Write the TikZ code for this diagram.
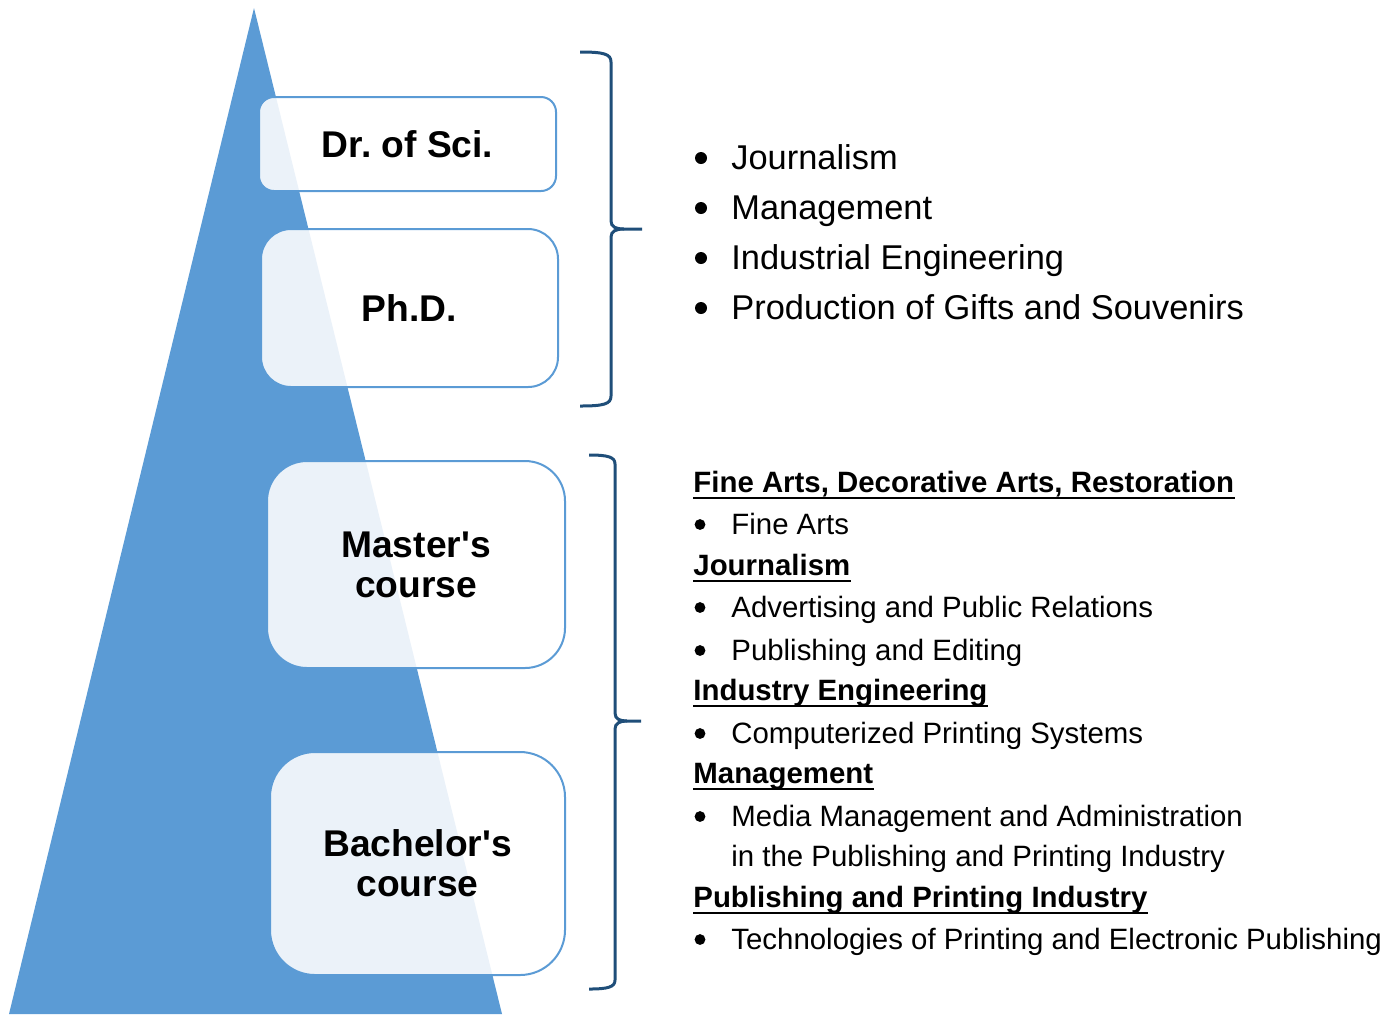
\documentclass[tikz,border=0pt]{standalone}
\usepackage{fontspec}
\setmainfont{Liberation Sans}
\frenchspacing
\definecolor{pyr}{HTML}{5B9BD5}
\definecolor{brc}{HTML}{1F4E79}
\tikzset{
  level/.style={draw=pyr,line width=1pt,fill=white,fill opacity=0.88,text opacity=1,
    align=center,inner sep=0pt,font=\bfseries\fontsize{18.6}{20}\selectfont},
  brc/.style={draw=brc,line width=1.5pt},
  big/.style={anchor=base west,inner sep=0pt,font=\fontsize{17.2}{18}\selectfont},
  item/.style={anchor=base west,inner sep=0pt,font=\fontsize{14.7}{16}\selectfont},
  head/.style={item,font=\bfseries\fontsize{14.7}{16}\selectfont},
  dot/.style={circle,fill=black,inner sep=0pt,minimum size=#1},
  uline/.style={line width=1.4pt}
}
\begin{document}
\begin{tikzpicture}[x=0.5pt,y=-0.5pt]
\useasboundingbox (0,0) rectangle (1400,1014);
%pyramid
\fill[pyr] (254,8)--(502,1014)--(9,1014)--cycle;
%levels
\node[level,minimum width=148.5pt,minimum height=47pt,rounded corners=7.5pt] (dsc) at (407.5,144) {Dr. of Sci.};
\node[level,minimum width=148.5pt,minimum height=79pt,rounded corners=15pt] (phd) at (409.5,308) {Ph.D.};
\node[level,minimum width=149pt,minimum height=103.5pt,rounded corners=20pt] (mas) at (416,564.5) {Master\textquotesingle s\\course};
\node[level,minimum width=147.5pt,minimum height=111.5pt,rounded corners=22.5pt] (bac) at (417.5,863.5) {Bachelor\textquotesingle s\\course};
%braces
\draw[brc] (580,52) .. controls (604,52) and (611,54) .. (611,62)--(611,221)
  .. controls (611,227) and (616,229) .. (624,229)--(642,229);
\draw[brc] (624,229) .. controls (616,229) and (611,231) .. (611,237)--(611,396)
  .. controls (611,404) and (604,406) .. (580,406);
\draw[brc] (589,455) .. controls (608,455) and (615,457) .. (615,464)--(615,713)
  .. controls (615,719) and (620,721) .. (627,721)--(641,721);
\draw[brc] (627,721) .. controls (620,721) and (615,723) .. (615,729)--(615,980)
  .. controls (615,987) and (608,989) .. (589,989);
%upper list
\foreach \t [count=\i] in {Journalism,Management,Industrial Engineering,Production of Gifts and Souvenirs}{
  \node[dot=6pt] (ub\i) at (701,108+50*\i) {};
  \node[big] (ut\i) at (731,119+50*\i) {\t};
}
%lower list
\node[head] (h1) at (693,492) {Fine Arts, Decorative Arts, Restoration};
\node[dot=5.4pt] (b1) at (700,524.5) {};
\node[item] (t1) at (731,534) {Fine Arts};
\node[head] (h2) at (693,575) {Journalism};
\node[dot=5.4pt] (b2) at (700,607.5) {};
\node[item] (t2) at (731,617) {Advertising and Public Relations};
\node[dot=5.4pt] (b3) at (700,650.5) {};
\node[item] (t3) at (731,660) {Publishing and Editing};
\node[head] (h3) at (693,700) {Industry Engineering};
\node[dot=5.4pt] (b4) at (700,733.5) {};
\node[item] (t4) at (731,743) {Computerized Printing Systems};
\node[head] (h4) at (693,783) {Management};
\node[dot=5.4pt] (b5) at (700,816.5) {};
\node[item] (t5) at (731,826) {Media Management and Administration};
\node[item] (t6) at (731,866) {in the Publishing and Printing Industry};
\node[head] (h5) at (693,907) {Publishing and Printing Industry};
\node[dot=5.4pt] (b6) at (700,939.5) {};
\node[item] (t7) at (731,949) {Technologies of Printing and Electronic Publishing};
\foreach \h in {h1,h2,h3,h4,h5}
  \draw[uline] ([yshift=-3pt]\h.base west)--([yshift=-3pt]\h.base east);
\end{tikzpicture}
\end{document}
